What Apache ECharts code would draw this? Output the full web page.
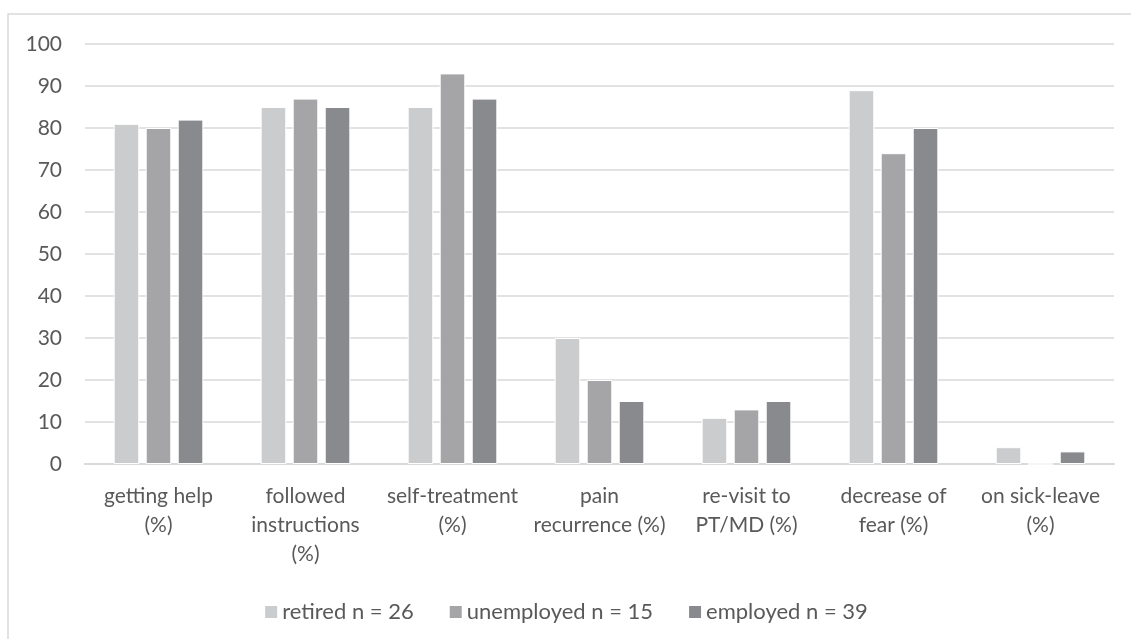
<!DOCTYPE html>
<html>
<head>
<meta charset="utf-8">
<script src="https://cdn.jsdelivr.net/npm/echarts@6/dist/echarts.min.js"></script>
<style>
  html, body { margin: 0; padding: 0; background: #fff; }
  #chart { width: 1131px; height: 639px; }
</style>
</head>
<body>
<div id="chart"></div>
<script>
var categories = [
  'getting help\n(%)',
  'followed\ninstructions\n(%)',
  'self-treatment\n(%)',
  'pain\nrecurrence (%)',
  're-visit to\nPT/MD (%)',
  'decrease of\nfear (%)',
  'on sick-leave\n(%)'
];
var retired = [81, 85, 85, 30, 11, 89, 4];
var unemployed = [80, 87, 93, 20, 13, 74, 0];
var employed = [82, 85, 87, 15, 15, 80, 3];
var seriesNames = ['retired n = 26', 'unemployed n = 15', 'employed n = 39'];
var yTicks = { min: 0, max: 100, interval: 10 };

var chartDom = document.getElementById('chart');
var myChart = echarts.init(chartDom);
var option;

var font = 'Lato, "Open Sans", sans-serif';
var textColor = '#595959';

function bar(name, data, color) {
  return {
    name: name,
    type: 'bar',
    data: data,
    barGap: '25%',
    barCategoryGap: '39%',
    itemStyle: { color: color, borderColor: '#fff', borderWidth: 1 },
    emphasis: { disabled: true }
  };
}

option = {
  animation: false,
  textStyle: { fontFamily: font },
  graphic: [
    {
      type: 'rect',
      shape: { x: 8, y: 14, width: 1200, height: 700 },
      style: { fill: 'none', stroke: '#d9d9d9', lineWidth: 1.5 },
      silent: true
    }
  ],
  grid: { left: 85, right: 17, top: 44, bottom: 175 },
  legend: {
    data: seriesNames,
    bottom: 11,
    left: 'center',
    itemWidth: 14,
    itemHeight: 14,
    itemGap: 34,
    icon: 'rect',
    textStyle: { color: textColor, fontSize: 22, padding: [0, 0, 0, -1], fontFamily: font }
  },
  xAxis: {
    type: 'category',
    data: categories,
    axisLine: { lineStyle: { color: '#d9d9d9', width: 2 } },
    axisTick: { show: false },
    axisLabel: {
      color: textColor,
      fontSize: 21,
      lineHeight: 29,
      margin: 18,
      interval: 0,
      fontFamily: font
    }
  },
  yAxis: {
    type: 'value',
    min: yTicks.min,
    max: yTicks.max,
    interval: yTicks.interval,
    axisLine: { show: false },
    axisTick: { show: false },
    axisLabel: { color: textColor, fontSize: 21, margin: 23, fontFamily: font },
    splitLine: { lineStyle: { color: '#d9d9d9', width: 1.5 } }
  },
  series: [
    bar(seriesNames[0], retired, '#cbcccd'),
    bar(seriesNames[1], unemployed, '#a5a5a8'),
    bar(seriesNames[2], employed, '#898a8d')
  ]
};

option && myChart.setOption(option);
</script>
</body>
</html>
